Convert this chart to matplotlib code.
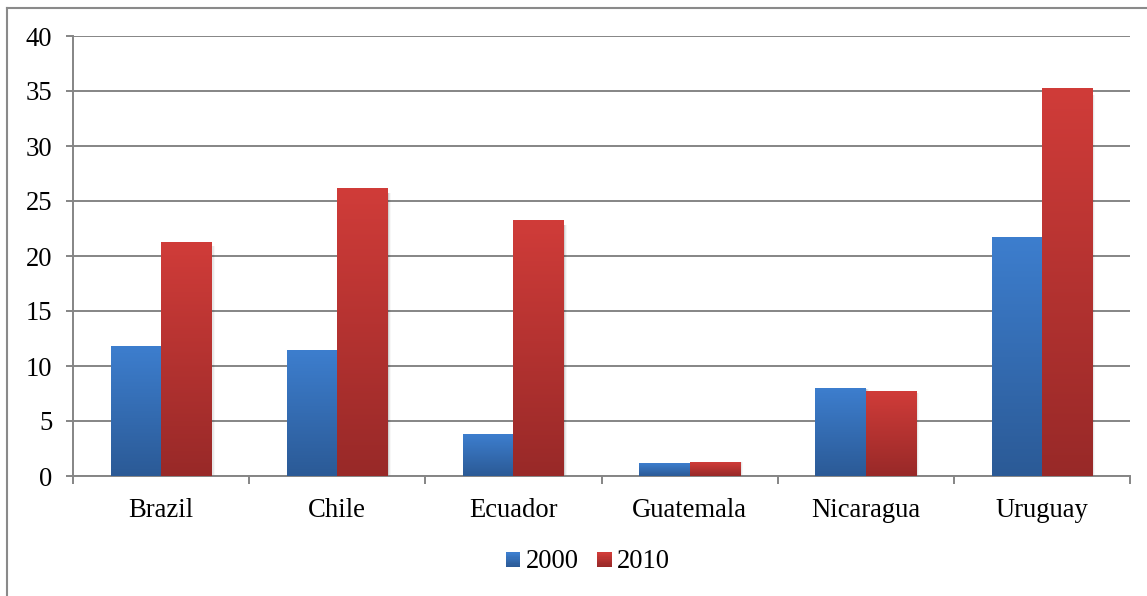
import numpy as np
import matplotlib
matplotlib.use("Agg")
import matplotlib.pyplot as plt
from matplotlib.colors import LinearSegmentedColormap
from matplotlib.patches import Rectangle
from matplotlib.lines import Line2D
from matplotlib.legend_handler import HandlerBase

countries = ["Brazil", "Chile", "Ecuador", "Guatemala", "Nicaragua", "Uruguay"]
series_names = ["2000", "2010"]
values_2000 = [11.8, 11.4, 3.8, 1.1, 8.0, 21.7]
values_2010 = [21.2, 26.1, 23.2, 1.25, 7.65, 35.2]
y_ticks = [0, 5, 10, 15, 20, 25, 30, 35, 40]

# top (light) -> bottom (dark) colours for each series
blue_top, blue_bottom = "#3D7ECE", "#2B5A96"
red_top, red_bottom = "#D03C39", "#982928"

plt.rcParams["font.family"] = ["Liberation Serif", "DejaVu Serif"]
GRID = "#858585"
FS = 19.2

fig = plt.figure(figsize=(11.47, 5.96), dpi=100)
ax = fig.add_axes([73 / 1147, 1 - 476 / 596, (1130 - 73) / 1147, (476 - 36) / 596])

x = np.arange(len(countries))
width = 0.2857


def gradient_bars(ax, xs, vals, top, bottom):
    bars = ax.bar(xs, vals, width, facecolor="none", edgecolor="none", zorder=3)
    cmap = LinearSegmentedColormap.from_list("g", [bottom, top])
    grad = np.linspace(0, 1, 256).reshape(-1, 1)
    for b in bars:
        x0, y0 = b.get_x(), b.get_y()
        w, h = b.get_width(), b.get_height()
        # soft shadow to the right of the bar
        for i, a in enumerate([0.10, 0.06, 0.03]):
            ax.add_patch(Rectangle((x0 + w, y0), 0.006 * (i + 1), h * 0.985,
                                   facecolor="black", alpha=a, edgecolor="none", zorder=2.5))
        ax.imshow(grad, extent=(x0, x0 + w, y0, y0 + h), origin="lower",
                  cmap=cmap, aspect="auto", interpolation="bilinear", zorder=3)
    return bars


gradient_bars(ax, x - width / 2, values_2000, blue_top, blue_bottom)
gradient_bars(ax, x + width / 2, values_2010, red_top, red_bottom)

ax.set_xlim(-0.5, len(countries) - 0.5)
ax.set_ylim(0, 40)
ax.set_aspect("auto")

# gridlines
ax.set_yticks(y_ticks)
ax.yaxis.grid(True, color=GRID, linewidth=1.4, zorder=0)
ax.set_axisbelow(True)
for s in ["top", "right"]:
    ax.spines[s].set_visible(False)
for s in ["left", "bottom"]:
    ax.spines[s].set_color(GRID)
    ax.spines[s].set_linewidth(1.4)

ax.tick_params(axis="y", length=5, width=1.4, color=GRID, pad=10, labelsize=FS)
ax.set_yticklabels([str(t) for t in y_ticks])

# category ticks at group boundaries, labels at centres
ax.set_xticks(np.arange(-0.5, len(countries), 1.0))
ax.set_xticklabels([])
ax.tick_params(axis="x", which="major", length=6, width=1.4, color=GRID)
ax.set_xticks(x, minor=True)
ax.set_xticklabels(countries, minor=True)
ax.tick_params(axis="x", which="minor", length=0, pad=16, labelsize=FS)


class GradientHandler(HandlerBase):
    def __init__(self, top, bottom):
        super().__init__()
        self.top, self.bottom = top, bottom

    def create_artists(self, legend, orig_handle, xdescent, ydescent, width, height, fontsize, trans):
        cmap = LinearSegmentedColormap.from_list("g", [self.bottom, self.top])
        n = 12
        size = width
        y0 = -ydescent
        arts = []
        for i in range(n):
            arts.append(Rectangle((-xdescent, y0 + size * i / n), size, size / n + 0.3,
                                  facecolor=cmap(i / (n - 1)), edgecolor="none", transform=trans))
        return arts


h1 = Rectangle((0, 0), 1, 1)
h2 = Rectangle((0, 0), 1, 1)
fig.legend([h1, h2], series_names, loc="center", bbox_to_anchor=(588 / 1147, 1 - 562 / 596),
           ncol=2, frameon=False, fontsize=FS, handlelength=0.55, handleheight=0.55,
           handletextpad=0.2, columnspacing=0.7,
           handler_map={h1: GradientHandler(blue_top, blue_bottom),
                        h2: GradientHandler(red_top, red_bottom)})

# chart area border
bx, by = 7.5 / 1147, 1 - 7.5 / 596
fig.add_artist(Line2D([bx, bx], [0, by], color="#8A8A8A", linewidth=1.5, transform=fig.transFigure))
fig.add_artist(Line2D([bx, 1], [by, by], color="#8A8A8A", linewidth=1.5, transform=fig.transFigure))

fig.savefig("out.png", dpi=100)
